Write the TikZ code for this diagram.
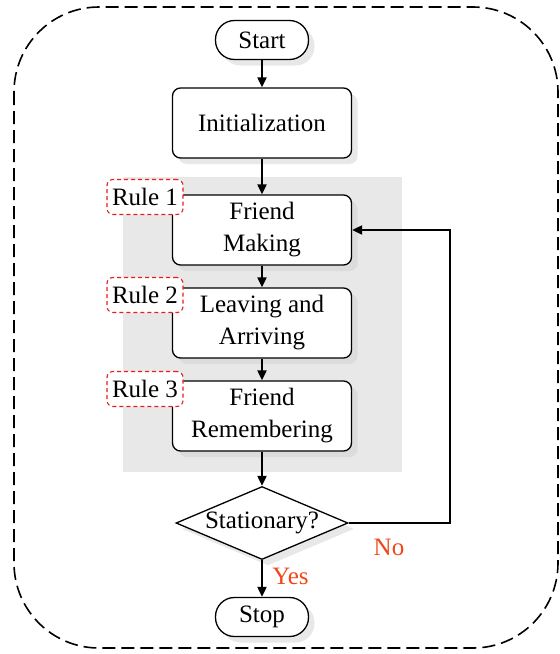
\documentclass[tikz,border=0pt]{standalone}
\usepackage{fontspec}
\setmainfont{Liberation Serif}
\usetikzlibrary{shapes.geometric, arrows.meta, shadows, positioning}

\definecolor{rulered}{RGB}{230,30,30}
\definecolor{answer}{RGB}{240,70,25}

\tikzset{
  shade box/.style={drop shadow={shadow xshift=6pt, shadow yshift=-6pt, fill=gray!35}},
  terminal/.style={draw, fill=white, line width=1.3pt, rounded corners=19pt,
    minimum width=93pt, minimum height=39pt, inner sep=0pt, shade box},
  process/.style={draw, fill=white, line width=1.3pt, rounded corners=8pt,
    minimum width=179pt, minimum height=70pt, inner sep=0pt, align=center, shade box},
  decision/.style={diamond, draw, fill=white, line width=1.3pt, aspect=2.36,
    minimum width=172pt, minimum height=73pt, inner sep=0pt, shade box},
  rule label/.style={draw=rulered, fill=white, dashed, dash pattern=on 4pt off 3pt,
    line width=1.1pt, rounded corners=6pt, minimum width=76pt, minimum height=35pt,
    inner sep=0pt},
  answer label/.style={text=answer}
}

\begin{document}
\begin{tikzpicture}[x=1pt, y=-1pt, font=\fontsize{25}{32}\selectfont,
    >={Triangle[length=10pt, width=9pt]}]

    \useasboundingbox (0,0) rectangle (560,654);

    \draw [line width=1.6pt, dash pattern=on 13pt off 6pt, rounded corners=85pt]
      (14,7) rectangle (558,648);
    \fill [gray!18] (123,177) rectangle (402,472);

    \node [terminal] (start) at (262,40) {Start};
    \node [process] (init) at (262,123) {Initialization};

    \foreach \t/\y [count=\i] in {{Friend\\Making}/230, {Leaving and\\Arriving}/323,
                                  {Friend\\Remembering}/416}
      \node [process] (step-\i) at (262,\y) {\t};

    \foreach \y [count=\i] in {197,295,389}
      \node [rule label] (rule-\i) at (145,\y) {Rule \i};

    \node [decision] (check) at (262,523) {Stationary?};
    \node [terminal] (stop) at (262,617) {Stop};

    \draw [->, line width=2pt] (start) -- (init);
    \draw [->, line width=2pt] (init) -- (step-1);
    \draw [->, line width=2pt] (step-1) -- (step-2);
    \draw [->, line width=2pt] (step-2) -- (step-3);
    \draw [->, line width=2pt] (step-3) -- (check);

    \draw [->, line width=2pt] (check) -- (stop)
      node [answer label, right=6pt, pos=0.45] {Yes};
    \draw [->, line width=2pt] (check.east) -| (450,230) -- (step-1.east);
    \node [answer label] (no) at (389,547) {No};

\end{tikzpicture}
\end{document}
